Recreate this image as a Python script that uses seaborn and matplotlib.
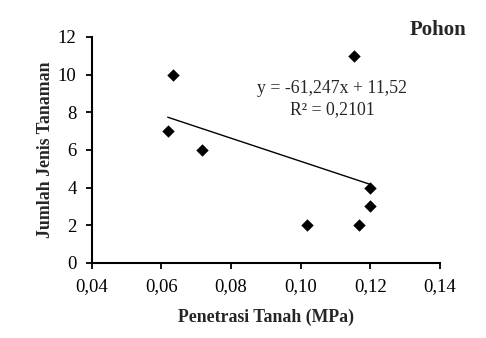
import numpy as np
import pandas as pd
import matplotlib
matplotlib.use("Agg")
import matplotlib.pyplot as plt
import seaborn as sns

# data
penetrasi = [0.0618, 0.0634, 0.0717, 0.1017, 0.1153, 0.1167, 0.1200, 0.1200]
jumlah_jenis = [7, 10, 6, 2, 11, 2, 4, 3]
slope = -61.247
intercept = 11.52
x_ticks = [0.04, 0.06, 0.08, 0.10, 0.12, 0.14]
x_tick_labels = ["0,04", "0,06", "0,08", "0,10", "0,12", "0,14"]
y_ticks = [0, 2, 4, 6, 8, 10, 12]

df = pd.DataFrame({"x": penetrasi, "y": jumlah_jenis})
x_line = np.array([min(penetrasi), max(penetrasi)])
trend = pd.DataFrame({"x": x_line, "y": slope * x_line + intercept})

sns.set_style("ticks")
plt.rcParams["font.family"] = ["Liberation Serif", "DejaVu Serif"]

fig = plt.figure(figsize=(4.86, 3.38), dpi=100)
ax = fig.add_axes([0.189, 0.222, 0.716, 0.669])

sns.lineplot(data=trend, x="x", y="y", color="black", linewidth=1.0, ax=ax)
sns.scatterplot(data=df, x="x", y="y", marker="D", s=40, color="black",
                edgecolor="black", linewidth=0, ax=ax, zorder=3)

ax.set_xlim(0.04, 0.14)
ax.set_ylim(0, 12)
ax.set_xticks(x_ticks)
ax.set_xticklabels(x_tick_labels)
ax.set_yticks(y_ticks)
ax.tick_params(labelsize=13.5, length=4, width=1.3, colors="black")
ax.tick_params(axis="x", pad=7)
ax.tick_params(axis="y", pad=7)
for side in ["left", "bottom"]:
    ax.spines[side].set_linewidth(1.5)
    ax.spines[side].set_color("black")
sns.despine(ax=ax)

ax.set_xlabel("Penetrasi Tanah (MPa)", fontsize=12.8, fontweight="bold", labelpad=10)
ax.set_ylabel("Jumlah Jenis Tanaman", fontsize=12.8, fontweight="bold", labelpad=3)

ax.text(0.109, 9.25, "y = -61,247x + 11,52", ha="center", va="center", fontsize=12.8)
ax.text(0.109, 8.15, "R² = 0,2101", ha="center", va="center", fontsize=12.8)
fig.text(0.96, 0.91, "Pohon", ha="right", va="center", fontsize=15, fontweight="bold")

fig.savefig("out.png", dpi=100)
